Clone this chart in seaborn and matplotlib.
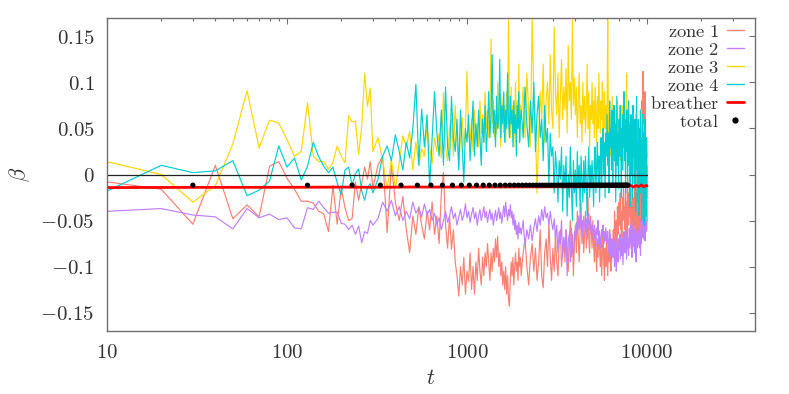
"""
Breather / zone beta vs time, gnuplot-like log-x plot
"""
import numpy as np
import matplotlib
matplotlib.use("Agg")
import matplotlib.pyplot as plt
import matplotlib.ticker as mticker
from matplotlib.lines import Line2D
import seaborn as sns

# sampling times: every 10 up to 300, every 20 up to 1980, every 50 up to 10000
t_zone = list(range(10, 301, 10)) + list(range(320, 1981, 20)) + list(range(2000, 10001, 50))

zone1 = [
    # t = 10 .. 300
    -.008, -.016, -.054, .010, -.048, -.033, -.046, .009, .014, -.004,
    -.016, -.029, -.029, -.031, -.040, -.043, -.062, -.012, -.054, -.015,
    -.036, -.050, -.048, -.008, -.028, -.010, .008, -.005, .014, -.015,
    # t = 320 .. 1980
    .010, .020, -.063, .010, -.030, -.050, -.024, -.060, -.085, -.045,
    -.065, -.035, -.055, -.070, -.040, -.060, -.030, -.065, -.045, -.075,
    -.020, .002, -.055, -.080, -.045, -.081, -.060, -.095, -.110, -.132,
    -.100, -.120, -.090, -.130, -.105, -.116, -.085, -.125, -.100, -.130,
    -.095, -.115, -.080, -.105, -.120, -.090, -.110, -.085, -.100, -.075,
    -.095, -.115, -.085, -.105, -.080, -.095, -.070, -.090, -.067, -.100,
    -.085, -.110, -.095, -.120, -.105, -.125, -.100, -.130, -.110, -.135,
    -.143, -.115, -.095, -.110, -.090, -.120, -.100, -.085, -.105, -.095,
    -.115, -.080, -.100, -.090,
    # t = 2000 .. 10000
    -.110, -.085, -.070, -.100, -.120, -.090, -.075, -.105, -.080, -.115,
    -.095, -.060, -.110, -.123, -.085, -.070, -.100, -.052, -.090, -.115,
    -.080, -.105, -.065, -.095, -.110, -.075, -.060, -.100, -.085, -.070,
    -.095, -.060, -.080, -.105, -.070, -.050, -.090, -.065, -.110, -.075,
    -.055, -.085, -.040, -.070, -.095, -.060, -.030, -.075, -.050, -.085,
    -.065, -.040, -.080, -.055, -.025, -.070, -.085, -.045, -.060, -.080,
    -.050, -.075, -.095, -.060, -.085, -.105, -.070, -.090, -.060, -.080,
    -.100, -.075, -.110, -.085, -.065, -.095, -.115, -.080, -.100, -.070,
    -.090, -.110, -.075, -.095, -.060, -.085, -.105, -.070, -.090, -.080,
    -.060, -.085, -.040, -.070, -.095, -.050, -.075, -.035, -.065, -.045,
    -.030, -.055, -.020, -.060, -.040, -.070, -.025, -.050, -.010, -.045,
    -.035, -.060, -.015, -.050, -.030, -.065, -.005, -.040, -.055, -.020,
    -.045, .010, -.060, -.030, -.070, -.015, -.050, -.080, -.025, -.055,
    -.040, -.010, -.065, .020, -.045, -.075, -.020, -.055, .005, -.035,
    -.060, .030, -.040, -.080, .050, -.025, -.055, .080, -.030, -.065,
    .112, -.020, -.050, .060, -.035, .090, -.010, -.045, .040, -.025,
    .010,
]

zone2 = [
    -.040, -.037, -.044, -.046, -.059, -.037, -.047, -.043, -.049, -.047,
    -.058, -.059, -.036, -.038, -.029, -.036, -.042, -.041, -.041, -.053,
    -.054, -.060, -.055, -.065, -.056, -.074, -.062, -.064, -.050, -.055,
    -.048, -.030, -.040, -.028, -.045, -.035, -.050, -.040, -.048, -.030,
    -.042, -.036, -.046, -.032, -.044, -.038, -.050, -.042, -.055, -.047,
    -.060, -.050, -.040, -.052, -.045, -.035, -.048, -.042, -.055, -.046,
    -.038, -.050, -.044, -.032, -.047, -.040, -.052, -.043, -.036, -.048,
    -.041, -.055, -.045, -.038, -.050, -.043, -.035, -.047, -.040, -.052,
    -.044, -.038, -.049, -.042, -.055, -.046, -.039, -.050, -.043, -.036,
    -.048, -.041, -.053, -.044, -.034, -.046, -.030, -.042, -.050, -.038,
    -.045, -.033, -.047, -.040, -.055, -.043, -.060, -.050, -.065, -.055,
    -.070, -.052, -.063, -.058,
    -.065, -.050, -.078, -.060, -.070, -.055, -.072, -.058, -.048, -.062,
    -.045, -.055, -.038, -.050, -.035, -.047, -.042, -.055, -.040, -.052,
    -.060, -.048, -.070, -.055, -.085, -.062, -.075, -.050, -.090, -.068,
    -.080, -.060, -.110, -.072, -.065, -.095, -.058, -.078, -.088, -.062,
    -.070, -.052, -.065, -.045, -.060, -.040, -.058, -.050, -.068, -.045,
    -.055, -.062, -.048, -.070, -.052, -.042, -.060, -.050, -.065, -.055,
    -.060, -.072, -.055, -.068, -.078, -.058, -.065, -.050, -.075, -.062,
    -.070, -.080, -.060, -.068, -.055, -.075, -.062, -.072, -.058, -.066,
    -.075, -.062, -.085, -.070, -.090, -.065, -.078, -.095, -.070, -.082,
    -.090, -.072, -.100, -.080, -.068, -.105, -.085, -.075, -.095, -.070,
    -.082, -.065, -.092, -.075, -.060, -.088, -.070, -.098, -.078, -.062,
    -.072, -.085, -.060, -.078, -.092, -.065, -.080, -.070, -.088, -.058,
    -.068, -.080, -.055, -.075, -.065, -.090, -.060, -.072, -.050, -.078,
    -.062, -.085, -.058, -.070, -.095, -.065, -.080, -.055, -.075, -.068,
    -.060, -.078, -.050, -.070, -.088, -.062, -.075, -.055, -.068, -.045,
    -.058, -.070, -.048, -.065, -.055, -.072, -.045, -.062, -.052, -.060,
    -.050,
]

zone3 = [
    .014, .000, -.030, -.012, .033, .091, .029, .059, .056, .038,
    .020, .025, .078, .020, .014, .014, .006, .013, .031, .020,
    .013, .064, .057, .058, .022, .052, .110, .074, .094, .025,
    .040, .016, -.016, .016, -.015, .013, .042, .030, .047, .005,
    .035, .010, .028, .020, .053, .030, .012, .040, .025, .045,
    .018, .089, .030, .015, .052, .060, .020, .075, .035, .010,
    .040, .062, .030, .050, .112, .045, .035, .060, .025, .070,
    .040, .055, .030, .080, .045, .065, .035, .090, .050, .070,
    .040, .060, .147, .055, .080, .040, .065, .045, .100, .050,
    .070, .030, .085, .060, .045, .075, .035, .090, .055, .168,
    .070, .040, .095, .050, .075, .030, .065, .100, .045, .080,
    .055, .120, .040, .075,
    .060, .095, .040, .110, .070, .030, .170, .085, .050, -.020,
    .045, .090, .060, .120, .035, .080, .100, .055, .130, .070,
    .050, .160, .090, .065, .110, .040, .085, .125, .060, .095,
    .070, .115, .045, .140, .080, .100, .060, .168, .075, .105,
    .065, .095, .040, .080, .110, .055, .075, .035, .100, .060,
    .085, .045, .070, .120, .050, .090, .030, .075, .060, .100,
    .055, .080, .040, .095, .065, .035, .085, .050, .110, .070,
    .045, .080, .060, .100, .035, .070, .090, .050, .075, .040,
    .075, .168, .050, .030, .065, .045, .020, .055, .085, .035,
    .060, .025, .045, .070, .010, .050, .035, .080, .020, .055,
    .040, .065, .015, .050, .030, .075, .045, .005, .060, .035,
    .050, .020, .070, .040, .110, .030, .055, .010, .045, .065,
    .025, .050, .035, .060, .005, .045, .030, .075, .020, .040,
    .055, .015, .045, .030, .065, .010, .040, .050, .025, .060,
    .035, .020, .050, .005, .040, .070, .025, .045, .010, .035,
    .055, .020, .040, -.005, .030, .050, .015, .035, .000, .025,
    .020,
]

zone4 = [
    -.018, .010, .002, .004, .015, -.023, -.017, -.007, .031, .008,
    .018, -.006, .009, .035, .019, .009, .002, .008, -.009, -.022,
    .005, .008, -.012, .001, .006, -.018, -.028, -.014, -.010, -.020,
    -.005, .020, .031, .015, .043, .025, .005, .035, .018, .050,
    .098, .010, .071, .030, .065, -.013, .040, .090, .045, .020,
    .070, .010, .095, .030, .015, .085, .040, .025, .060, .005,
    .070, .030, -.008, .050, .035, .065, .015, .045, .080, .020,
    .055, .030, .070, .040, .010, .060, .035, .075, .025, .050,
    .090, .040, .065, .130, .045, .070, .030, .085, .050, .060,
    .125, .040, .075, .055, .090, .035, .070, .050, .110, .060,
    .040, .085, .055, .070, .030, .080, .045, .065, .020, .075,
    .050, .090, .035, .060,
    .070, .040, .095, .055, .030, .080, .045, .100, .025, .065,
    .085, .040, .060, .015, .075, .035, .050, -.010, .045, .020,
    .030, -.020, .025, .005, -.030, .015, -.005, .030, -.040, .010,
    -.015, .020, -.045, .000, -.025, .030, -.010, -.050, .015, -.020,
    .005, -.035, .025, -.015, .010, -.040, .020, -.005, -.030, .015,
    -.020, .020, -.010, -.045, .005, .030, -.025, .010, -.015, .015,
    -.005, -.035, .015, .030, -.020, .010, .035, -.010, .020, -.030,
    .015, .040, -.015, .025, .050, .000, .035, -.025, .045, .020,
    .065, .010, .045, -.020, .080, .030, .050, .005, .070, -.010,
    .040, .075, .015, .055, -.030, .030, .085, .010, .045, -.015,
    .060, .020, .075, .035, -.025, .050, .005, .065, .030, .090,
    .015, .045, -.020, .060, .025, .070, -.005, .040, .080, .010,
    .055, -.035, .030, .065, .000, .045, -.025, .075, .020, .050,
    -.010, .060, .030, -.040, .045, .085, .005, .035, -.030, .060,
    .020, -.045, .050, .010, .070, -.020, .040, -.050, .025, .065,
    -.015, .045, .010, -.055, .035, .060, -.030, .020, -.045, .040,
    -.050,
]

t_breather = [10, 30, 100, 200, 300, 500, 1000, 2000, 4000, 6000, 7800,
              8100, 8400, 8700, 9000, 9300, 9600, 9900, 10000]
breather = [-.0142, -.0140, -.0139, -.0137, -.0139, -.0136, -.0137, -.0135, -.0133,
            -.0130, -.0128, -.0118, -.0136, -.0120, -.0132, -.0114, -.0134, -.0118, -.0124]

t_total = list(range(30, 7900, 100))
total = [
    -.0116, -.0116, -.0116, -.0116, -.0116, -.0116, -.0116, -.0116, -.0116, -.0116,
    -.0116, -.0116, -.0116, -.0116, -.0116, -.0116, -.0116, -.0116, -.0116, -.0116,
    -.0116, -.0116, -.0116, -.0116, -.0116, -.0116, -.0116, -.0116, -.0116, -.0116,
    -.0116, -.0116, -.0116, -.0116, -.0116, -.0116, -.0116, -.0116, -.0116, -.0116,
    -.0116, -.0116, -.0116, -.0116, -.0116, -.0116, -.0116, -.0116, -.0116, -.0116,
    -.0116, -.0116, -.0116, -.0116, -.0116, -.0116, -.0116, -.0116, -.0116, -.0116,
    -.0116, -.0116, -.0116, -.0116, -.0116, -.0116, -.0116, -.0116, -.0116, -.0116,
    -.0116, -.0116, -.0116, -.0116, -.0116, -.0116, -.0116, -.0116, -.0116,
]

t_zero = [10, 10000]
zero = [0, 0]

zone_labels = ["zone 1", "zone 2", "zone 3", "zone 4"]
zone_colors = ["#fa8072", "#c080ff", "#ffd700", "#00ced1"]

x_ticks = [10, 100, 1000, 10000]
y_ticks = [-0.15, -0.1, -0.05, 0, 0.05, 0.1, 0.15]

sns.set_theme(style="white")
plt.rcParams["mathtext.fontset"] = "cm"
plt.rcParams["font.family"] = ["DejaVu Serif"]

fig = plt.figure(figsize=(7.89, 3.94), dpi=100)
ax = fig.add_axes([107 / 789, 1 - 331 / 394, 648 / 789, 313 / 394])

for vals, col in zip([zone1, zone2, zone3, zone4], zone_colors):
    sns.lineplot(x=t_zone, y=vals, ax=ax, color=col, lw=0.85, sort=False,
                 estimator=None, legend=False)
sns.lineplot(x=t_zero, y=zero, ax=ax, color="#222222", lw=0.9, legend=False)
sns.lineplot(x=t_breather, y=breather, ax=ax, color="#ff0000", lw=2.0, sort=False,
             estimator=None, legend=False)
sns.scatterplot(x=t_total, y=total, ax=ax, color="black", s=14, edgecolor="none",
                legend=False, zorder=5)

ax.set_xscale("log")
ax.set_xlim(10, 39800)
ax.set_ylim(-0.17, 0.17)

ax.xaxis.set_major_locator(mticker.FixedLocator(x_ticks))
ax.xaxis.set_major_formatter(mticker.FixedFormatter([f"${v}$" for v in x_ticks]))
ax.xaxis.set_minor_locator(mticker.LogLocator(base=10, subs=np.arange(2, 10)))
ax.xaxis.set_minor_formatter(mticker.NullFormatter())
ax.yaxis.set_major_locator(mticker.FixedLocator(y_ticks))
ax.yaxis.set_major_formatter(mticker.FixedFormatter([f"${v:g}$" for v in y_ticks]))

for s in ax.spines.values():
    s.set_color("#707070")
    s.set_linewidth(1.0)
ax.tick_params(which="both", direction="in", top=True, right=True, color="#707070",
               labelcolor="#333333", labelsize=15, width=0.8)
ax.tick_params(which="major", length=4.5, pad=9)
ax.tick_params(which="minor", length=2.5)
ax.tick_params(axis="x", pad=9)

ax.set_xlabel("$t$", fontsize=16, color="#333333", labelpad=3)
ax.set_ylabel(r"$\beta$", fontsize=16, color="#333333", labelpad=6)

handles = [Line2D([], [], color=c, lw=1.0) for c in zone_colors]
handles.append(Line2D([], [], color="#ff0000", lw=2.0))
handles.append(Line2D([], [], color="black", marker="o", ls="none", markersize=3.5))
labels = [rf"$\mathrm{{{l.replace(' ', chr(92) + ' ')}}}$" for l in zone_labels]
labels += [r"$\mathrm{breather}$", r"$\mathrm{total}$"]
leg = ax.legend(handles, labels, loc="upper right", bbox_to_anchor=(1.0, 1.02),
                markerfirst=False, frameon=False, fontsize=13.4, handlelength=0.93,
                handletextpad=0.4, labelspacing=0.0, borderaxespad=0.2)
for txt in leg.get_texts():
    txt.set_color("#333333")

fig.savefig("out.png", dpi=100)
